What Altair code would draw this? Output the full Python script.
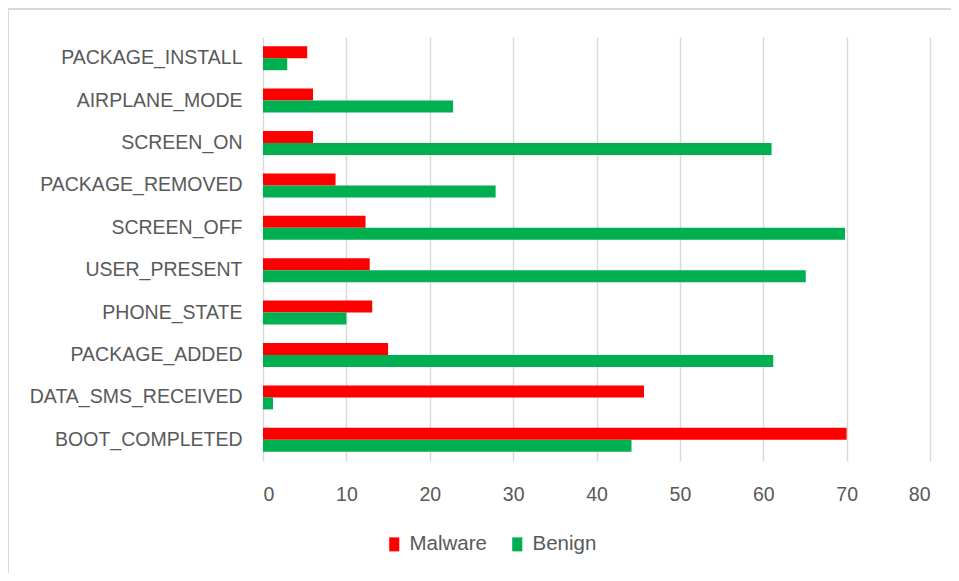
import altair as alt
import pandas as pd

categories = ["PACKAGE_INSTALL", "AIRPLANE_MODE", "SCREEN_ON", "PACKAGE_REMOVED",
              "SCREEN_OFF", "USER_PRESENT", "PHONE_STATE", "PACKAGE_ADDED",
              "DATA_SMS_RECEIVED", "BOOT_COMPLETED"]
malware = [5.3, 6.0, 6.0, 8.7, 12.3, 12.8, 13.1, 15.0, 45.7, 70.0]
benign = [2.9, 22.8, 61.0, 27.9, 69.8, 65.1, 10.0, 61.2, 1.2, 44.2]
series = ["Malware", "Benign"]
colors = ["#FF0000", "#00B050"]
x_ticks = [0, 10, 20, 30, 40, 50, 60, 70, 80]

rows = []
for c, m, b in zip(categories, malware, benign):
    rows.append({"event": c, "type": "Malware", "value": m})
    rows.append({"event": c, "type": "Benign", "value": b})
df = pd.DataFrame(rows)

FONT = "Liberation Sans"
TXT = "#595959"

bars = alt.Chart(df).mark_bar(size=12).encode(
    y=alt.Y("event:N", sort=categories, title=None,
            scale=alt.Scale(paddingInner=0.434, paddingOuter=0.217),
            axis=alt.Axis(ticks=False, domain=False, labelPadding=21, labelLimit=0,
                          labelFont=FONT, labelFontSize=19.5, labelColor=TXT,
                          grid=False)),
    yOffset=alt.YOffset("type:N", sort=series, scale=alt.Scale(paddingInner=0, paddingOuter=0)),
    x=alt.X("value:Q", title=None,
            scale=alt.Scale(domain=[0, 80], nice=False),
            axis=alt.Axis(values=x_ticks, ticks=False, domain=False, labelPadding=24,
                          labelFont=FONT, labelFontSize=19.5, labelColor=TXT,
                          grid=True, gridColor="#d9d9d9", gridWidth=1.5)),
    color=alt.Color("type:N", sort=series,
                    scale=alt.Scale(domain=series, range=colors),
                    legend=alt.Legend(title=None, orient="none", direction="horizontal",
                                      legendX=121, legendY=497,
                                      symbolType="M-0.72,-1H0.72V1H-0.72Z",
                                      symbolSize=196, symbolStrokeWidth=0,
                                      labelFont=FONT, labelFontSize=20.5, labelColor=TXT,
                                      labelOffset=5, columnPadding=20)),
)

frame_df = pd.DataFrame({"a": [0]})
top_line = alt.Chart(frame_df).mark_rule(stroke="#d9d9d9", strokeWidth=2).encode(
    x=alt.value(-255), x2=alt.value(720), y=alt.value(-28),
)
left_line = alt.Chart(frame_df).mark_rule(stroke="#d9d9d9", strokeWidth=2).encode(
    x=alt.value(-255), y=alt.value(-28), y2=alt.value(620),
)

chart = alt.layer(top_line, left_line, bars).properties(
    width=667, height=424,
    padding={"left": 255, "top": 29, "right": 21, "bottom": 112},
    autosize=alt.AutoSizeParams(type="none"),
).configure_view(stroke=None)

chart.save("out.html", embed_options={"renderer": "svg", "actions": False})
